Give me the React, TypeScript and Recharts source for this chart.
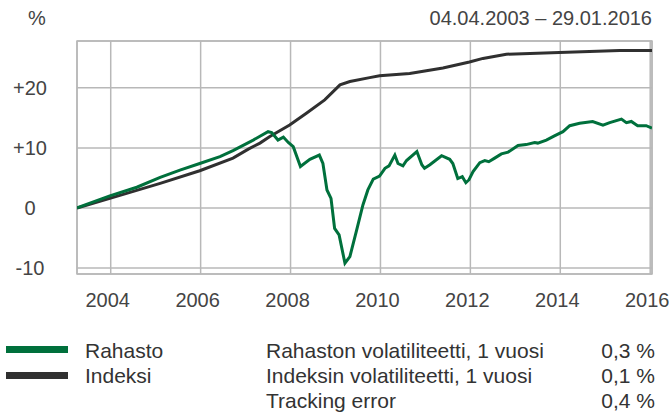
import React from "react";
import { LineChart, Line, XAxis, YAxis, CartesianGrid, ReferenceArea } from "recharts";

// Time axis (decimal years) and values in %
const rahastoT = [2003.25, 2003.98, 2004.58, 2005.1, 2005.54, 2005.98, 2006.43, 2006.72, 2007.17, 2007.5, 2007.58, 2007.72, 2007.84, 2007.95, 2008.06, 2008.22, 2008.43, 2008.64, 2008.72, 2008.81, 2008.9, 2008.98, 2009.08, 2009.21, 2009.32, 2009.47, 2009.61, 2009.72, 2009.84, 2009.98, 2010.1, 2010.19, 2010.32, 2010.39, 2010.5, 2010.58, 2010.81, 2010.92, 2010.98, 2011.1, 2011.36, 2011.54, 2011.61, 2011.72, 2011.82, 2011.9, 2011.97, 2012.06, 2012.21, 2012.32, 2012.41, 2012.54, 2012.69, 2012.84, 2013.06, 2013.24, 2013.43, 2013.5, 2013.69, 2013.87, 2014.06, 2014.21, 2014.43, 2014.72, 2014.95, 2015.1, 2015.36, 2015.47, 2015.58, 2015.72, 2015.91, 2016.04];
const rahastoV = [0, 2.0, 3.45, 5.1, 6.3, 7.4, 8.55, 9.55, 11.3, 12.7, 12.55, 11.3, 11.8, 10.9, 10.2, 6.9, 8.1, 8.8, 7.4, 3.0, 1.6, -3.4, -4.5, -9.2, -8.1, -3.7, 0.5, 3.0, 4.8, 5.3, 6.6, 7.0, 8.8, 7.4, 7.0, 7.9, 9.4, 7.2, 6.6, 7.2, 8.7, 8.1, 7.4, 4.9, 5.2, 4.2, 4.7, 6.05, 7.55, 7.9, 7.7, 8.3, 9.0, 9.3, 10.4, 10.55, 10.9, 10.8, 11.3, 12.0, 12.7, 13.7, 14.1, 14.4, 13.8, 14.2, 14.8, 14.2, 14.4, 13.7, 13.7, 13.3];

const indeksiT = [2003.25, 2003.98, 2005.1, 2005.98, 2006.72, 2007.06, 2007.32, 2007.54, 2007.98, 2008.36, 2008.76, 2009.1, 2009.32, 2009.76, 2009.98, 2010.65, 2011.39, 2011.98, 2012.28, 2012.8, 2013.98, 2014.65, 2015.32, 2016.04];
const indeksiV = [0, 1.6, 4.1, 6.2, 8.3, 9.8, 10.8, 11.9, 13.8, 15.8, 18.0, 20.5, 21.05, 21.7, 22.0, 22.4, 23.3, 24.3, 24.9, 25.6, 25.9, 26.05, 26.2, 26.2];

const xTicks = [2004, 2006, 2008, 2010, 2012, 2014, 2016];
const yTicks = [-10, 0, 10, 20];
const xDomain = [2003.25, 2016.04];
const yDomain = [-11, 27.8];

const legendItems = ["Rahasto", "Indeksi"];
const statLabels = ["Rahaston volatiliteetti, 1 vuosi", "Indeksin volatiliteetti, 1 vuosi", "Tracking error"];
const statValues = ["0,3 %", "0,1 %", "0,4 %"];
const dateRange = "04.04.2003 \u2013 29.01.2016";

const rahastoData = rahastoT.map((t, i) => ({ t, v: rahastoV[i] }));
const indeksiData = indeksiT.map((t, i) => ({ t, v: indeksiV[i] }));

const GREEN = "#00703c";
const DARK = "#303030";
const GRID = "#b8b8b8";
const TEXT = "#444444";
const FONT = "'Liberation Sans', Arial, sans-serif";

const YTick = (props: any) => {
  const v = props.payload.value;
  const label = v > 0 ? `+${v}` : `${v}`;
  return (
    <text x={30} y={props.y + 7} textAnchor="middle" fontSize={20} fill={TEXT} fontFamily={FONT}>
      {label}
    </text>
  );
};

const XTick = (props: any) => (
  <text x={props.x - 3} y={307} textAnchor="middle" fontSize={20} fill={TEXT} fontFamily={FONT}>
    {props.payload.value}
  </text>
);

export default function App() {
  return (
    <div style={{ position: "absolute", left: 0, top: 0, width: 669, height: 414, background: "#fff" }}>
      <LineChart
        width={669}
        height={414}
        margin={{ top: 41, left: 17, right: 17, bottom: 110 }}
      >
        <CartesianGrid stroke={GRID} strokeWidth={1.5} />
        <XAxis
          dataKey="t"
          type="number"
          domain={xDomain}
          ticks={xTicks}
          allowDataOverflow
          axisLine={false}
          tickLine={false}
          height={30}
          tick={<XTick />}
        />
        <YAxis
          type="number"
          domain={yDomain}
          ticks={yTicks}
          allowDataOverflow
          axisLine={false}
          tickLine={false}
          width={60}
          tick={<YTick />}
        />
        <ReferenceArea
          x1={xDomain[0]}
          x2={xDomain[1]}
          y1={yDomain[0]}
          y2={yDomain[1]}
          fill="none"
          stroke={GRID}
          strokeWidth={1.5}
        />
        <Line data={indeksiData} dataKey="v" type="linear" stroke={DARK} strokeWidth={3} dot={false} isAnimationActive={false} />
        <Line data={rahastoData} dataKey="v" type="linear" stroke={GREEN} strokeWidth={3} dot={false} isAnimationActive={false} />
      </LineChart>
      <svg width={669} height={414} style={{ position: "absolute", left: 0, top: 0, pointerEvents: "none" }} fontFamily={FONT}>
        <text x={37} y={25} textAnchor="middle" fontSize={20} fill={TEXT}>%</text>
        <text x={652} y={25} textAnchor="end" fontSize={20} fill={TEXT}>{dateRange}</text>
        {legendItems.map((name, i) => (
          <g key={name}>
            <rect x={6} y={346 + i * 26} width={62} height={7} fill={i === 0 ? GREEN : DARK} />
            <text x={85} y={358 + i * 25} fontSize={21} fill="#333">{name}</text>
          </g>
        ))}
        {statLabels.map((s, i) => (
          <g key={s}>
            <text x={266} y={358 + i * 25} fontSize={21} fill="#333">{s}</text>
            <text x={655} y={358 + i * 25} textAnchor="end" fontSize={21} fill="#333">{statValues[i]}</text>
          </g>
        ))}
      </svg>
    </div>
  );
}
